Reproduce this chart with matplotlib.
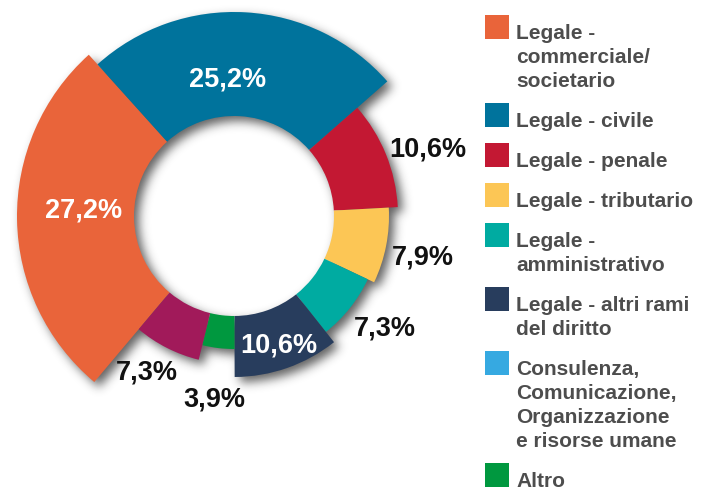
import numpy as np
import matplotlib.pyplot as plt
from matplotlib.patches import Rectangle

W, H = 701, 489

plt.rcParams.update({
    'font.family': 'Liberation Sans',
    'font.weight': 'bold',
})

# legend order
categories = [
    'Legale -\ncommerciale/\nsocietario',
    'Legale - civile',
    'Legale - penale',
    'Legale - tributario',
    'Legale -\namministrativo',
    'Legale - altri rami\ndel diritto',
    'Consulenza,\nComunicazione,\nOrganizzazione\ne risorse umane',
    'Altro',
]
shares = [27.2, 25.2, 10.6, 7.9, 7.3, 10.6, 7.3, 3.9]
slice_colors = ['#E9643A', '#00739C', '#C31833', '#FCC655', '#00ABA1',
                '#283D5D', '#A11A5A', '#00983F']
legend_colors = ['#E9643A', '#00739C', '#C31833', '#FCC655', '#00ABA1',
                 '#283D5D', '#36A9E1', '#00983F']
# order of the slices around the ring (clockwise)
ring_order = [0, 1, 2, 3, 4, 5, 7, 6]

# ring geometry (pixels)
CX, CY = 234, H - 217
R_IN = 100
outer_r = [217, 204, 164, 155, 148, 161, 148, 133]
label_r = [151, 138, 205, 193, 187, 136, 178, 184]
label_da = [-3.5, 6, -3, -1, 2, 0, -2.5, 0.5]   # small angle nudges for labels
label_col = ['white', 'white', '#111111', '#111111', '#111111', 'white', '#111111', '#111111']


def fmt(v):
    return f'{v:.1f}'.replace('.', ',') + '%'


def blur(a, sigma):
    n = int(3 * sigma)
    k = np.exp(-0.5 * (np.arange(-n, n + 1) / sigma) ** 2)
    k /= k.sum()
    a = np.apply_along_axis(lambda r: np.convolve(r, k, mode='same'), 0, a)
    a = np.apply_along_axis(lambda r: np.convolve(r, k, mode='same'), 1, a)
    return a


fig = plt.figure(figsize=(W / 100, H / 100), dpi=100)
ax = fig.add_axes([0, 0, 1, 1])

vals = [shares[i] for i in ring_order]
start = 132 + shares[0] * 3.6
wedges, _ = ax.pie(vals, colors=[slice_colors[i] for i in ring_order],
                   startangle=start, counterclock=False,
                   center=(CX, CY), radius=outer_r[0],
                   wedgeprops=dict(linewidth=0, zorder=3))

# variable outer radius per slice
for w, i in zip(wedges, ring_order):
    w.set_radius(outer_r[i])
    w.set_width(outer_r[i] - R_IN)

# soft drop shadow (offset down-right)
yy, xx = np.mgrid[0:H, 0:W] + 0.5
dx = xx - (CX + 5)
dy = yy - (CY - 5)
rr = np.hypot(dx, dy)
ang = np.degrees(np.arctan2(dy, dx)) % 360
mask = np.zeros((H, W))
for w, i in zip(wedges, ring_order):
    span = w.theta2 - w.theta1
    inside = ((ang - w.theta1) % 360) <= span
    mask[inside & (rr >= R_IN) & (rr <= outer_r[i])] = 1.0
shadow = blur(mask, 5)
rgba = np.zeros((H, W, 4))
rgba[..., :3] = 0.12
rgba[..., 3] = 0.7 * shadow
ax.imshow(rgba, extent=(0, W, 0, H), origin='lower', zorder=1,
          interpolation='bilinear')

# value labels
for w, i in zip(wedges, ring_order):
    mid = np.radians((w.theta1 + w.theta2) / 2 + label_da[i])
    x = CX + label_r[i] * np.cos(mid)
    y = CY + label_r[i] * np.sin(mid)
    ax.text(x, y, fmt(shares[i]), ha='center', va='center', fontsize=19.5,
            fontweight='bold', color=label_col[i], zorder=5)

# legend
LINE = 24
top = 16
for name, col in zip(categories, legend_colors):
    lines = name.split('\n')
    ax.add_patch(Rectangle((485, H - top - 24), 24, 24, color=col, lw=0, zorder=4))
    for k, ln in enumerate(lines):
        ax.text(516, H - top - 23 - k * LINE, ln, ha='left', va='baseline',
                fontsize=15, fontweight='bold', color='#4D4D4D', zorder=5)
    top += len(lines) * LINE + 16

ax.set_xlim(0, W)
ax.set_ylim(0, H)
ax.set_aspect('auto')
ax.axis('off')

fig.savefig('out.png', dpi=100)
